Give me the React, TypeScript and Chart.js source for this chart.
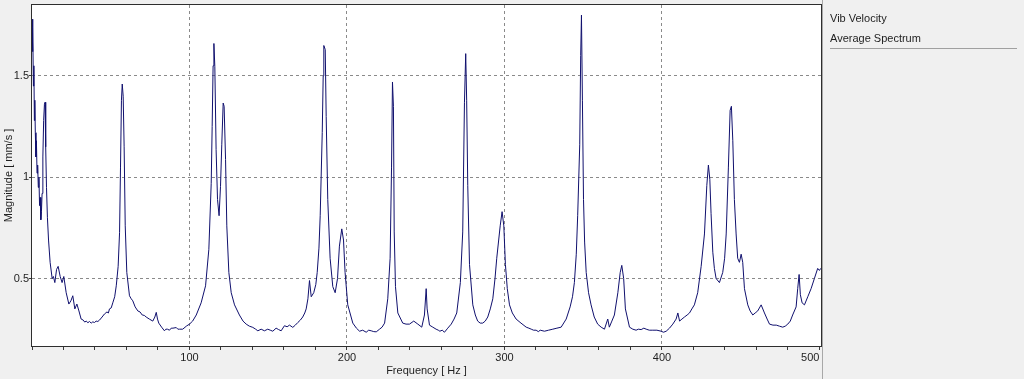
import React, { useEffect, useRef } from "react";
import { Chart, registerables } from "chart.js";

Chart.register(...registerables);

// ---- data ----
const FREQ_HZ: number[] = [
  0, 0.3, 0.6, 0.9, 1.2, 1.5, 1.8, 2.1, 2.5, 2.8,
  3.2, 3.6, 4.0, 4.4, 4.8, 5.2, 5.6, 6.0, 6.4, 6.9,
  7.4, 7.9, 8.3, 8.7, 9.2, 9.8, 10.5, 11.5, 12.8, 13.6,
  14.5, 15.6, 16.6, 17.9, 19.1, 20.2, 21.7, 23.4, 24.7, 25.9,
  27.2, 28.5, 29.8, 31.2, 32.5, 33.5, 34.4, 35.5, 36.5, 37.6,
  38.6, 39.7, 40.7, 41.8, 42.9, 44.5, 46.0, 47.6, 48.5, 49.2,
  50.3, 51.3, 52.5, 53.5, 54.7, 55.6, 56.2, 56.8, 57.3, 57.9,
  58.5, 59.2, 60.2, 61.9, 63.0, 64.0, 65.5, 67.2, 68.6, 70.0,
  71.3, 72.5, 74.5, 76.7, 78.0, 78.9, 79.7, 80.5, 82.3, 84.1,
  85.0, 86.0, 87.3, 88.4, 89.5, 91.6, 92.6, 93.7, 95.7, 98.0,
  100.0, 102.0, 104.3, 107.4, 110.2, 112.3, 113.8, 114.4, 115.0, 115.5,
  116.1, 116.9, 117.8, 118.8, 119.7, 120.5, 121.4, 122.0, 122.9, 123.7,
  125.0, 126.5, 128.6, 131.7, 134.0, 136.0, 138.0, 140.2, 142.0, 143.4,
  145.5, 147.6, 149.7, 151.3, 152.9, 155.0, 156.6, 158.2, 160.3, 162.0,
  163.5, 165.6, 167.2, 168.8, 170.4, 171.9, 173.2, 174.1, 175.2, 176.2,
  177.3, 178.9, 180.2, 181.1, 182.2, 183.0, 184.3, 184.9, 185.3, 186.2,
  186.8, 187.8, 189.3, 191.0, 192.5, 194.0, 195.2, 196.7, 197.8, 198.8,
  200.5, 203.7, 206.0, 208.0, 210.0, 212.2, 213.8, 215.4, 217.0, 218.6,
  220.7, 222.3, 223.9, 225.9, 227.4, 228.3, 228.9, 229.5, 230.0, 230.8,
  232.3, 235.4, 237.5, 239.7, 242.4, 245.0, 247.5, 249.2, 250.3, 250.9,
  252.4, 254.5, 256.6, 258.0, 259.0, 260.5, 261.9, 264.0, 266.2, 268.0,
  269.7, 272.0, 273.5, 274.6, 275.4, 276.0, 276.7, 277.8, 279.9, 281.5,
  283.0, 284.6, 286.2, 287.8, 289.4, 291.0, 292.6, 294.0, 295.1, 297.3,
  298.5, 299.6, 300.6, 301.8, 303.2, 305.0, 307.4, 310.5, 313.8, 315.5,
  317.0, 318.5, 320.1, 321.5, 322.7, 325.4, 328.0, 330.7, 333.3, 336.0,
  339.2, 341.7, 343.2, 344.4, 345.6, 346.5, 347.8, 348.4, 348.9, 349.5,
  350.2, 350.9, 351.9, 353.4, 355.0, 357.0, 359.2, 361.4, 363.5, 365.6,
  366.6, 368.2, 369.8, 372.0, 373.5, 374.5, 375.7, 376.8, 379.4, 381.5,
  383.6, 385.0, 386.8, 388.5, 390.0, 392.0, 394.2, 396.8, 399.5, 401.0,
  402.7, 404.8, 406.9, 409.0, 410.1, 411.2, 412.7, 414.3, 416.0, 417.5,
  419.0, 420.6, 422.7, 424.9, 427.0, 428.5, 429.5, 430.4, 431.2, 432.3,
  433.3, 434.4, 436.5, 438.6, 439.8, 440.8, 442.2, 443.3, 444.1, 445.0,
  446.0, 447.1, 448.1, 449.2, 450.3, 451.3, 452.4, 454.5, 456.0, 457.7,
  459.2, 460.8, 463.0, 465.1, 466.8, 468.3, 470.5, 472.6, 474.6, 476.7,
  478.3, 479.9, 481.5, 483.0, 485.2, 486.2, 487.1, 487.9, 489.0, 490.5,
  492.6, 494.7, 496.8, 498.9, 500.0, 500.8,
];

const MAGNITUDE_MM_S: number[] = [
  1.78, 1.62, 1.74, 1.45, 1.55, 1.28, 1.38, 1.22, 1.10, 1.18,
  1.02, 1.06, 0.95, 1.00, 0.86, 0.90, 0.79, 0.83, 0.92, 1.10,
  1.28, 1.36, 1.37, 1.15, 0.95, 0.80, 0.69, 0.58, 0.50, 0.51,
  0.48, 0.545, 0.56, 0.51, 0.48, 0.51, 0.43, 0.374, 0.39, 0.415,
  0.35, 0.374, 0.34, 0.30, 0.295, 0.285, 0.29, 0.282, 0.288, 0.28,
  0.286, 0.283, 0.29, 0.288, 0.295, 0.31, 0.325, 0.335, 0.33, 0.35,
  0.355, 0.38, 0.41, 0.464, 0.56, 0.726, 1.05, 1.38, 1.46, 1.40,
  1.15, 0.76, 0.53, 0.415, 0.40, 0.39, 0.36, 0.34, 0.335, 0.32,
  0.318, 0.31, 0.30, 0.29, 0.31, 0.333, 0.30, 0.28, 0.26, 0.242,
  0.25, 0.25, 0.245, 0.255, 0.255, 0.258, 0.25, 0.25, 0.25, 0.265,
  0.275, 0.29, 0.32, 0.38, 0.464, 0.644, 0.97, 1.25, 1.55, 1.66,
  1.545, 1.136, 0.89, 0.81, 0.955, 1.16, 1.366, 1.35, 1.087, 0.76,
  0.53, 0.43, 0.37, 0.32, 0.29, 0.275, 0.265, 0.259, 0.25, 0.242,
  0.25, 0.242, 0.25, 0.245, 0.24, 0.255, 0.248, 0.242, 0.267, 0.262,
  0.27, 0.259, 0.27, 0.283, 0.295, 0.31, 0.33, 0.35, 0.40, 0.49,
  0.41, 0.43, 0.47, 0.53, 0.65, 0.81, 1.22, 1.50, 1.65, 1.63,
  1.30, 0.89, 0.60, 0.46, 0.43, 0.50, 0.66, 0.745, 0.69, 0.53,
  0.37, 0.28, 0.255, 0.24, 0.245, 0.235, 0.245, 0.242, 0.238, 0.237,
  0.25, 0.26, 0.28, 0.40, 0.60, 1.05, 1.47, 1.35, 0.73, 0.46,
  0.33, 0.28, 0.275, 0.275, 0.29, 0.275, 0.26, 0.32, 0.45, 0.35,
  0.27, 0.26, 0.25, 0.245, 0.24, 0.245, 0.235, 0.255, 0.275, 0.30,
  0.33, 0.48, 0.73, 1.37, 1.61, 1.38, 0.96, 0.57, 0.37, 0.32,
  0.29, 0.28, 0.28, 0.29, 0.31, 0.35, 0.40, 0.50, 0.60, 0.76,
  0.83, 0.76, 0.57, 0.45, 0.37, 0.33, 0.30, 0.28, 0.26, 0.255,
  0.25, 0.245, 0.245, 0.238, 0.245, 0.24, 0.245, 0.25, 0.255, 0.26,
  0.30, 0.36, 0.41, 0.48, 0.62, 0.81, 1.16, 1.60, 1.80, 1.38,
  0.89, 0.68, 0.53, 0.43, 0.37, 0.31, 0.275, 0.26, 0.25, 0.30,
  0.26, 0.29, 0.32, 0.43, 0.53, 0.565, 0.50, 0.35, 0.26, 0.25,
  0.245, 0.25, 0.248, 0.255, 0.25, 0.245, 0.245, 0.245, 0.24, 0.235,
  0.24, 0.255, 0.275, 0.30, 0.33, 0.29, 0.30, 0.31, 0.32, 0.33,
  0.35, 0.37, 0.43, 0.56, 0.72, 0.96, 1.06, 0.99, 0.82, 0.63,
  0.55, 0.50, 0.48, 0.53, 0.60, 0.72, 1.05, 1.33, 1.35, 1.18,
  0.89, 0.72, 0.60, 0.58, 0.62, 0.58, 0.45, 0.37, 0.34, 0.32,
  0.33, 0.34, 0.37, 0.33, 0.30, 0.275, 0.27, 0.27, 0.265, 0.26,
  0.265, 0.275, 0.29, 0.32, 0.36, 0.45, 0.52, 0.42, 0.38, 0.37,
  0.41, 0.45, 0.50, 0.55, 0.54, 0.55,
];

const X_MIN = 0;
const X_MAX = 501;
const X_MINOR_STEP = 20;
const X_LABEL_STEP = 100;
const Y_MIN = 0.167;
const Y_MAX = 1.85;
const Y_STEP = 0.5;

const X_TITLE = "Frequency [ Hz ]";
const Y_TITLE = "Magnitude [ mm/s ]";
const SERIES_NAME = "Vib Velocity";
const SERIES_SUBTITLE = "Average Spectrum";

const FONT = "'Liberation Sans', Arial, sans-serif";

export default function App() {
  const canvasRef = useRef<HTMLCanvasElement | null>(null);

  useEffect(() => {
    const canvas = canvasRef.current;
    if (!canvas) return;

    const framePlugin = {
      id: "frame",
      beforeDraw(chart: any) {
        const { ctx, width, height, chartArea: a } = chart;
        ctx.save();
        ctx.fillStyle = "#f0f0f0";
        ctx.fillRect(0, 0, width, height);
        ctx.fillStyle = "#ffffff";
        ctx.fillRect(a.left, a.top, a.right - a.left, a.bottom - a.top);
        ctx.restore();
      },
      afterDraw(chart: any) {
        const { ctx, height, chartArea: a } = chart;
        ctx.save();
        ctx.lineWidth = 1;
        ctx.strokeStyle = "#a8a8a8";
        ctx.beginPath();
        ctx.moveTo(a.right + 1.5, 0);
        ctx.lineTo(a.right + 1.5, height);
        ctx.stroke();
        ctx.strokeStyle = "#2e2e2e";
        ctx.strokeRect(a.left - 0.5, a.top - 0.5, a.right - a.left + 1, a.bottom - a.top + 1);
        ctx.restore();
      },
    };

    const points = FREQ_HZ.map((f, i) => ({ x: f, y: MAGNITUDE_MM_S[i] }));

    const chart = new Chart(canvas, {
      type: "line",
      data: {
        datasets: [
          {
            label: SERIES_NAME,
            data: points,
            borderColor: "#10106e",
            borderWidth: 1,
            pointRadius: 0,
            tension: 0,
            fill: false,
          },
        ],
      },
      options: {
        responsive: false,
        maintainAspectRatio: false,
        animation: false,
        devicePixelRatio: 1,
        layout: { padding: { left: 0, top: 5, right: 203, bottom: 0 } },
        plugins: {
          legend: { display: false },
          tooltip: { enabled: false },
        },
        scales: {
          x: {
            type: "linear",
            min: X_MIN,
            max: X_MAX,
            afterFit(scale: any) {
              scale.height = 33;
              scale.paddingLeft = 0;
              scale.paddingRight = 0;
            },
            ticks: {
              stepSize: X_MINOR_STEP,
              includeBounds: false,
              autoSkip: false,
              maxRotation: 0,
              align: "inner",
              padding: 1,
              color: "#1e1e1e",
              font: { family: FONT, size: 11 },
              callback: (v: any) => {
                const n = Number(v);
                return n > 0 && n % X_LABEL_STEP === 0 ? String(n) : "";
              },
            },
            grid: {
              drawOnChartArea: true,
              drawTicks: true,
              tickLength: 4,
              tickColor: "#3a3a3a",
              tickBorderDash: [],
              lineWidth: 1,
              color: (ctx: any) => {
                const v = ctx.tick ? ctx.tick.value : 0;
                return v > 0 && v < 500 && v % X_LABEL_STEP === 0 ? "#8a8a8a" : "rgba(0,0,0,0)";
              },
            },
            border: { display: false, dash: [3, 3] },
            title: {
              display: true,
              text: X_TITLE,
              color: "#1e1e1e",
              font: { family: FONT, size: 11 },
              padding: { top: 0, bottom: 1 },
            },
          },
          y: {
            type: "linear",
            min: Y_MIN,
            max: Y_MAX,
            afterFit(scale: any) {
              scale.width = 32;
              scale.paddingTop = 0;
              scale.paddingBottom = 0;
            },
            ticks: {
              stepSize: Y_STEP,
              includeBounds: false,
              padding: 0,
              color: "#1e1e1e",
              font: { family: FONT, size: 11 },
              callback: (v: any) => String(Math.round(Number(v) * 10) / 10),
            },
            grid: {
              drawTicks: true,
              tickLength: 3,
              tickColor: "#3a3a3a",
              tickBorderDash: [],
              lineWidth: 1,
              color: "#8a8a8a",
            },
            border: { display: false, dash: [3, 3] },
            title: {
              display: true,
              text: Y_TITLE,
              color: "#1e1e1e",
              font: { family: FONT, size: 11 },
              padding: { top: 2, bottom: 0 },
            },
          },
        },
      },
      plugins: [framePlugin],
    } as any);

    return () => {
      chart.destroy();
    };
  }, []);

  return (
    <div
      style={{
        position: "absolute",
        left: 0,
        top: 0,
        width: 1024,
        height: 379,
        overflow: "hidden",
        background: "#f0f0f0",
      }}
    >
      <canvas ref={canvasRef} width={1024} height={379} style={{ display: "block" }} />
      <div
        style={{
          position: "absolute",
          left: 830,
          top: 12,
          font: `11px ${FONT}`,
          lineHeight: "13px",
          color: "#1e1e1e",
          whiteSpace: "nowrap",
        }}
      >
        {SERIES_NAME}
      </div>
      <div
        style={{
          position: "absolute",
          left: 830,
          top: 32,
          font: `11px ${FONT}`,
          lineHeight: "13px",
          color: "#1e1e1e",
          whiteSpace: "nowrap",
        }}
      >
        {SERIES_SUBTITLE}
      </div>
      <div
        style={{
          position: "absolute",
          left: 830,
          top: 48,
          width: 187,
          height: 1,
          background: "#a0a0a0",
        }}
      />
    </div>
  );
}
